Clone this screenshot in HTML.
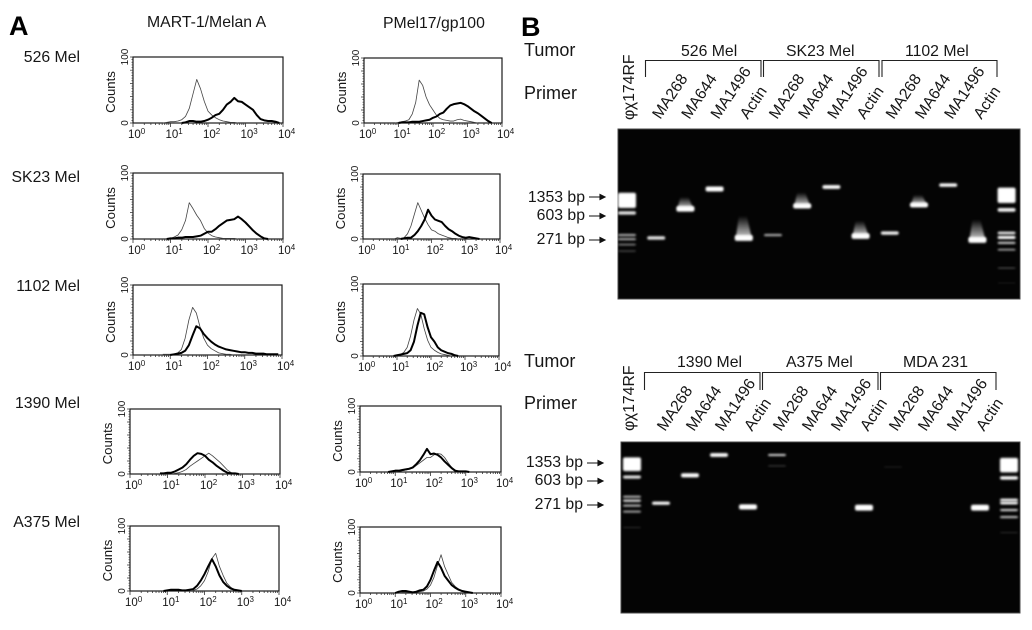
<!DOCTYPE html>
<html lang="en">
<head>
<meta charset="utf-8">
<title>Melanoma antigen flow cytometry and RT-PCR</title>
<style>
html,body{margin:0;padding:0;background:#fff;}
#figure{display:block;width:1032px;height:630px;}
text{font-family:"Liberation Sans",sans-serif;fill:#161616;}
.big{font-size:18px;}
.lab{font-size:15.8px;}
.tick{font-size:11.5px;}
.sup{font-size:8px;}
.cnt{font-size:13.2px;}
.yt{font-size:10px;}
</style>
</head>
<body>
<svg id="figure" xmlns="http://www.w3.org/2000/svg" width="1032" height="630" viewBox="0 0 1032 630">
  <defs>
    <filter id="bandBlur" x="-30%" y="-150%" width="160%" height="400%"><feGaussianBlur stdDeviation="1"/></filter>
    <linearGradient id="smearGrad" x1="0" y1="1" x2="0" y2="0">
      <stop offset="0" stop-color="#fff" stop-opacity="0.8"/>
      <stop offset="1" stop-color="#fff" stop-opacity="0"/>
    </linearGradient>
  </defs>
  <rect width="1032" height="630" fill="#fff"/>

  <text x="9" y="35" font-size="27" font-weight="bold" style="fill:#000">A</text>
  <text x="521" y="36" font-size="27" font-weight="bold" style="fill:#000">B</text>
  <text class="lab" x="147" y="27">MART-1/Melan A</text>
  <text class="lab" x="383" y="28">PMel17/gp100</text>

  <text class="lab" x="80" y="62" text-anchor="end">526 Mel</text>
  <text class="lab" x="80" y="182" text-anchor="end">SK23 Mel</text>
  <text class="lab" x="80" y="291" text-anchor="end">1102 Mel</text>
  <text class="lab" x="80" y="408" text-anchor="end">1390 Mel</text>
  <text class="lab" x="80" y="527" text-anchor="end">A375 Mel</text>

  <g id="histograms"></g>

  <text class="big" x="524" y="56">Tumor</text>
  <text class="big" x="524" y="99">Primer</text>
  <text class="big" x="524" y="367">Tumor</text>
  <text class="big" x="524" y="409">Primer</text>

  <text class="lab" x="681" y="56">526 Mel</text>
  <text class="lab" x="786" y="56">SK23 Mel</text>
  <text class="lab" x="905" y="56">1102 Mel</text>
  <text class="lab" x="677" y="367">1390 Mel</text>
  <text class="lab" x="786" y="367">A375 Mel</text>
  <text class="lab" x="903" y="367">MDA 231</text>

  <path d="M645.5 77V60.5H761V77" fill="none" stroke="#222" stroke-width="1.1"/>
  <path d="M763.5 77V60.5H879V77" fill="none" stroke="#222" stroke-width="1.1"/>
  <path d="M882 77V60.5H997V77" fill="none" stroke="#222" stroke-width="1.1"/>
  <path d="M644.5 390V372.5H760V390" fill="none" stroke="#222" stroke-width="1.1"/>
  <path d="M762.5 390V372.5H878V390" fill="none" stroke="#222" stroke-width="1.1"/>
  <path d="M880.5 390V372.5H996V390" fill="none" stroke="#222" stroke-width="1.1"/>

  <text class="lab" transform="translate(634,120) rotate(-90)">φχ174RF</text>
  <text class="lab" transform="translate(634,431) rotate(-90)">φχ174RF</text>

  <text class="lab" x="585" y="202" text-anchor="end">1353 bp</text>
  <text class="lab" x="585" y="220" text-anchor="end">603 bp</text>
  <text class="lab" x="585" y="244" text-anchor="end">271 bp</text>
  <text class="lab" x="583" y="467" text-anchor="end">1353 bp</text>
  <text class="lab" x="583" y="485" text-anchor="end">603 bp</text>
  <text class="lab" x="583" y="509" text-anchor="end">271 bp</text>

  <g id="gels"></g>
  <g id="arrows"></g>
</svg>

<script>
// Flow-cytometry histograms: log10 fluorescence bins and counts per bin
const logBins = [0.8,0.9,1.0,1.1,1.2,1.3,1.4,1.5,1.6,1.7,1.8,1.9,2.0,2.1,2.2,2.3,2.4,2.5,2.6,2.7,2.8,2.9,3.0,3.1,3.2,3.3,3.4,3.5,3.6,3.7,3.8,3.9];
const xTickExponents = [0,1,2,3,4];
const yTickValues = [0,100];

const mart526Thin   = [0,1,2,2,3,5,10,22,44,66,52,33, 18,12,8,5,3,2,1,1,0,0, 0,0,0,0,0,0,0,0,0,0];
const mart526Thick  = [0,0,0,0,0,0,1,3,3,2,2,3, 5,8,12,14,20,28,32,38,33,32, 28,24,20,12,6,4,3,3,2,0];
const pmel526Thin   = [0,0,1,2,3,5,14,32,66,58,40,28, 20,12,7,5,4,3,3,5,6,4, 3,2,1,0,0,0,0,0,0,0];
const pmel526Thick  = [0,0,0,1,1,1,2,2,2,3,4,5, 8,10,14,16,22,27,29,30,31,29, 26,22,18,15,11,7,3,0,0,0];
const martSk23Thin  = [0,0,1,3,6,14,28,55,46,36,28,16, 9,5,3,2,1,1,1,1,0,0, 0,0,0,0,0,0,0,0,0,0];
const martSk23Thick = [0,0,1,1,2,2,3,3,3,4,5,8, 11,11,15,20,24,28,29,30,34,30, 25,19,13,8,4,1,0,0,0,0];
const pmelSk23Thin  = [0,0,2,1,2,8,20,38,56,44,32,22, 14,12,8,6,4,2,1,1,0,0, 0,0,0,0,0,0,0,0,0,0];
const pmelSk23Thick = [0,0,0,0,1,2,2,6,12,20,30,45, 36,30,28,26,20,15,12,8,5,3, 2,3,2,1,0,0,0,0,0,0];
const mart1102Thin  = [1,1,1,1,3,8,24,50,68,60,40,24, 14,9,6,3,2,1,1,0,0,0, 0,0,0,0,0,0,0,0,0,0];
const mart1102Thick = [0,0,0,1,2,3,6,14,28,41,38,30, 24,19,15,12,10,8,7,6,5,4, 4,3,3,2,2,2,1,1,1,1];
const pmel1102Thin  = [0,0,1,2,5,12,28,50,66,58,38,22, 12,8,5,3,2,1,0,0,0,0, 0,0,0,0,0,0,0,0,0,0];
const pmel1102Thick = [0,0,1,2,3,4,8,20,42,60,58,40, 26,20,12,8,6,4,3,1,0,0, 0,0,0,0,0,0,0,0,0,0];
const mart1390Thin  = [0,0,0,0,1,2,4,7,12,16,20,24, 28,32,28,23,18,12,6,2,1,0, 0,0,0,0,0,0,0,0,0,0];
const mart1390Thick = [1,1,2,2,4,7,10,15,22,28,32,31, 28,22,18,13,9,5,2,1,1,0, 0,0,0,0,0,0,0,0,0,0];
const pmel1390Thin  = [0,0,0,1,2,3,4,6,10,14,18,22, 22,26,28,27,22,14,7,3,1,1, 0,0,0,0,0,0,0,0,0,0];
const pmel1390Thick = [0,1,2,2,3,4,5,7,12,18,26,35, 27,28,26,22,16,11,6,2,1,1, 1,0,0,0,0,0,0,0,0,0];
const martA375Thin  = [0,0,0,0,0,0,0,0,0,1,3,8, 16,30,50,58,38,24,12,6,2,1, 0,0,0,0,0,0,0,0,0,0];
const martA375Thick = [0,0,1,2,2,2,1,1,2,3,8,16, 26,38,49,38,24,14,8,4,2,1, 0,0,0,0,0,0,0,0,0,0];
const pmelA375Thin  = [0,0,0,0,1,1,1,1,1,2,3,6, 12,24,42,58,40,28,16,10,6,3, 1,0,0,0,0,0,0,0,0,0];
const pmelA375Thick = [0,0,0,2,3,3,2,1,2,4,5,10, 20,34,47,38,26,19,12,8,5,3, 2,1,0,0,0,0,0,0,0,0];

// Gel bands: lane index, migration (% of gel height), thickness, intensity, upward smear
const topBandLane      = [0,0,0,0,0,0,1,2,3,4,5,6,7,8,9,10,11,12,13,13,13,13,13,13,13,13];
const topBandMigration = [42,49.4,62.4,64.8,68,71.8,64.1,47,35.3,64.1,62.4,45.3,34.1,63,61.2,44.7,33,65.3,39,47.6,61.2,63.8,67,71,81.8,90.6];
const topBandThickness = [9,2,1.2,1.2,1,0.8,2,3.2,3,3.4,1.2,3,2.2,3.2,2,2.8,2,3.4,9,2.2,1.6,1.8,1.2,1,0.6,0.4];
const topBandIntensity = [1,0.9,0.7,0.7,0.5,0.3,0.9,1,1,1,0.7,1,1,1,0.95,1,1,1,1,0.95,0.9,1,0.85,0.7,0.35,0.15];
const topBandSmear     = [0,0,0,0,0,0,0,7,0,13,0,8,0,9,0,6,0,12,0,0,0,0,0,0,0,0];

const bottomBandLane      = [0,0,0,0,0,0,0,1,2,3,4,5,5,8,9,12,13,13,13,13,13,13,13];
const bottomBandMigration = [13,20.5,32,34.3,37.2,40.7,50,35.8,19.5,7.6,38,7.6,14,38.4,14.6,38.4,13.5,21,33.9,35.7,39.8,43.9,53];
const bottomBandThickness = [8,1.8,1.2,1.4,1.2,1.2,0.5,1.8,2.4,2.2,3,1.2,0.6,3.4,0.5,3.4,8.5,2,1.6,1.6,1.2,1.2,0.5];
const bottomBandIntensity = [1,0.9,0.75,0.85,0.75,0.65,0.25,1,1,1,1,0.85,0.25,1,0.15,1,1,1,0.95,1,0.85,0.75,0.25];
const bottomBandSmear     = [0,0,0,0,0,0,0,0,0,0,1,0,0,1,0,1,0,0,0,0,0,0,0];

const primerLabels = ['MA268','MA644','MA1496','Actin'];
const sizeMarkers = ['1353 bp','603 bp','271 bp'];

const SVG_NS = 'http://www.w3.org/2000/svg';
function mk(tag, attrs, parent) {
  const e = document.createElementNS(SVG_NS, tag);
  for (const k in attrs) e.setAttribute(k, attrs[k]);
  parent.appendChild(e);
  return e;
}

const histRoot = document.getElementById('histograms');

function drawHistogram(name, x0, x1, yTop, yBot, thinValues, thickValues) {
  const xScale = v => x0 + (x1 - x0) * v / 4;
  const yScale = c => yBot - (yBot - yTop) * c / 100;
  const g = mk('g', {}, histRoot);
  
  

  const frame = mk('rect', {x: x0, y: yTop, width: x1 - x0, height: yBot - yTop, fill: 'none', stroke: '#1a1a1a', 'stroke-width': 1.2}, g);
  
  

  // x ticks: major + log minor
  let xt = '';
  xTickExponents.forEach(function (d) {
    xt += 'M' + xScale(d) + ' ' + yBot + 'v4';
    if (d < 4) {
      for (let m = 2; m < 10; m++) xt += 'M' + xScale(d + Math.log10(m)).toFixed(2) + ' ' + yBot + 'v2';
    }
  });
  const xAxis = mk('path', {d: xt, stroke: '#333', 'stroke-width': 0.8, fill: 'none'}, g);
  
  

  // y ticks
  let yt = '';
  for (let c = 0; c <= 100; c += 4) {
    yt += 'M' + x0 + ' ' + yScale(c).toFixed(2) + 'h' + (c % 20 === 0 ? -3 : -1.5);
  }
  const yAxis = mk('path', {d: yt, stroke: '#333', 'stroke-width': 0.7, fill: 'none'}, g);
  
  

  // x tick labels
  xTickExponents.forEach(function (d) {
    const t = mk('text', {x: xScale(d) - 5, y: yBot + 15, class: 'tick'}, g);
    
    
    const base = mk('tspan', {}, t);
    base.textContent = '10';
    const sup = mk('tspan', {class: 'sup', dy: -4}, t);
    sup.textContent = String(d);
  });

  // y tick labels
  yTickValues.forEach(function (v) {
    const t = mk('text', {class: 'yt', 'text-anchor': 'middle', transform: 'translate(' + (x0 - 5) + ',' + yScale(v) + ') rotate(-90)'}, g);
    
    
    t.textContent = String(v);
  });

  const yTitle = mk('text', {class: 'cnt', 'text-anchor': 'middle', transform: 'translate(' + (x0 - 18) + ',' + ((yTop + yBot) / 2 + 2) + ') rotate(-90)'}, g);
  
  
  yTitle.textContent = 'Counts';

  function seriesPath(values) {
    let first = values.findIndex(v => v > 0);
    let last = values.length - 1;
    while (last > 0 && values[last] === 0) last--;
    let d = '';
    for (let i = Math.max(first - 1, 0); i <= Math.min(last + 1, values.length - 1); i++) {
      d += (d ? 'L' : 'M') + xScale(logBins[i]).toFixed(2) + ' ' + yScale(values[i]).toFixed(2);
    }
    return d;
  }
  const thin = mk('path', {d: seriesPath(thinValues), fill: 'none', stroke: '#444', 'stroke-width': 0.8, 'stroke-linejoin': 'round'}, g);
  
  
  const thick = mk('path', {d: seriesPath(thickValues), fill: 'none', stroke: '#000', 'stroke-width': 2, 'stroke-linejoin': 'round'}, g);
  
  
}

drawHistogram('mart-526', 133, 283, 57, 123, mart526Thin, mart526Thick);
drawHistogram('pmel-526', 364, 502, 58, 123, pmel526Thin, pmel526Thick);
drawHistogram('mart-sk23', 133, 283, 173, 239, martSk23Thin, martSk23Thick);
drawHistogram('pmel-sk23', 363, 500, 174, 239, pmelSk23Thin, pmelSk23Thick);
drawHistogram('mart-1102', 133, 282, 285, 355, mart1102Thin, mart1102Thick);
drawHistogram('pmel-1102', 363, 499, 284, 356, pmel1102Thin, pmel1102Thick);
drawHistogram('mart-1390', 130, 280, 409, 474, mart1390Thin, mart1390Thick);
drawHistogram('pmel-1390', 360, 501, 406, 472, pmel1390Thin, pmel1390Thick);
drawHistogram('mart-a375', 130, 279, 526, 591, martA375Thin, martA375Thick);
drawHistogram('pmel-a375', 360, 501, 527, 593, pmelA375Thin, pmelA375Thick);

const gelRoot = document.getElementById('gels');

function drawGel(name, gx, gy, gw, gh, laneStart, laneStep, lanes, migrations, thicknesses, intensities, smears, labelY) {
  const laneX = i => laneStart + laneStep * i;
  const migY = m => gy + gh * m / 100;
  const g = mk('g', {}, gelRoot);
  
  

  const bg = mk('rect', {x: gx, y: gy, width: gw, height: gh, fill: '#040404', stroke: '#4a4a4a', 'stroke-width': 1}, g);
  
  

  lanes.forEach(function (lane, i) {
    const cx = laneX(lane);
    const isLadder = lane === 0 || lane === 13;
    const w = 18;
    const h = gh * thicknesses[i] / 100;
    const cy = migY(migrations[i]);
    if (smears[i] > 0) {
      const sh = gh * smears[i] / 100;
      const yTopS = cy - sh;
      const pts = (cx - w / 2 + 1) + ',' + cy + ' ' + (cx + w / 2 - 1) + ',' + cy + ' ' + (cx + 3) + ',' + yTopS + ' ' + (cx - 5) + ',' + yTopS;
      const s = mk('polygon', {points: pts, fill: 'url(#smearGrad)', filter: 'url(#bandBlur)'}, g);
      
      
    }
    const b = mk('rect', {x: cx - w / 2, y: cy - h / 2, width: w, height: h, rx: 2, fill: '#fff', opacity: intensities[i], filter: 'url(#bandBlur)'}, g);
    
    
  });

  // primer labels repeat across the three tumour groups
  for (let lane = 1; lane <= 12; lane++) {
    const t = mk('text', {class: 'lab', transform: 'translate(' + (laneX(lane) + 4) + ',' + labelY + ') rotate(-56)'}, g);
    
    
    t.textContent = primerLabels[(lane - 1) % primerLabels.length];
  }
}

drawGel('top', 618, 129, 402, 170, 627, 29.2, topBandLane, topBandMigration, topBandThickness, topBandIntensity, topBandSmear, 120);
drawGel('bottom', 621, 442, 399, 171, 632, 29, bottomBandLane, bottomBandMigration, bottomBandThickness, bottomBandIntensity, bottomBandSmear, 432);

const arrowRoot = document.getElementById('arrows');
function drawArrow(x1, x2, y) {
  const a = mk('path', {d: 'M' + x1 + ' ' + y + 'H' + (x2 - 3) + 'M' + (x2 - 5) + ' ' + (y - 2.5) + 'L' + x2 + ' ' + y + 'L' + (x2 - 5) + ' ' + (y + 2.5) + 'Z', stroke: '#111', 'stroke-width': 1.1, fill: '#111'}, arrowRoot);
  
  
}
sizeMarkers.forEach(function (label, i) {
  drawArrow(589, 605, [197, 216, 240][i]);
  drawArrow(587, 603, [463, 481, 505][i]);
});
</script>
</body>
</html>
